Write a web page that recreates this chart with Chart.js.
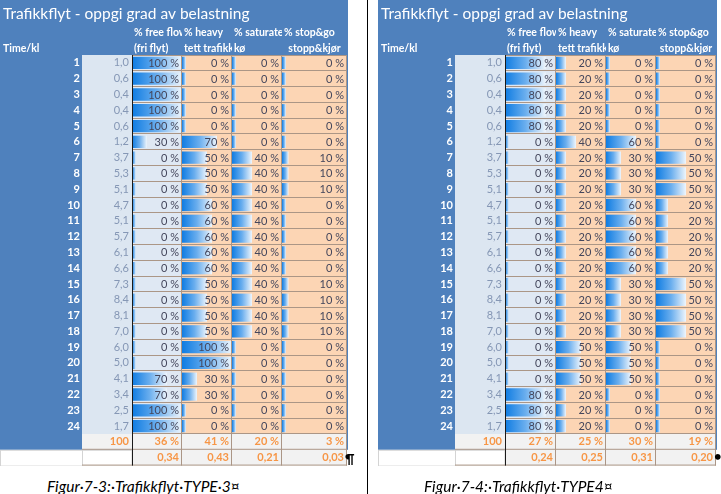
<!DOCTYPE html>
<html>
<head>
<meta charset="utf-8">
<script src="https://cdn.jsdelivr.net/npm/chart.js@4.4.1/dist/chart.umd.min.js"></script>
<style>
  body { margin: 0; width: 721px; height: 494px; background: #fff; position: relative; overflow: hidden; font-family: Lato, 'Open Sans', sans-serif; }
  canvas { position: absolute; top: 0; }
  #type3 { left: 0; }
  #type4 { left: 378px; }
  .divider { position: absolute; left: 367px; top: 0; width: 1px; height: 494px; background: #000; }
  .caption { position: absolute; top: 477px; font-style: italic; font-size: 15.5px; color: #000; white-space: nowrap; }
  .mark { position: absolute; font-size: 13px; font-weight: bold; color: #000; }
</style>
</head>
<body>
<canvas id="type3" width="348" height="466"></canvas>
<canvas id="type4" width="339" height="466"></canvas>
<div class="divider"></div>
<div class="caption" style="left:47px">Figur·7-3:·Trafikkflyt·TYPE·3¤</div>
<div class="caption" style="left:424px">Figur·7-4:·Trafikkflyt·TYPE4¤</div>
<div class="mark" style="left:345px;top:451px">¶</div>
<div class="mark" style="left:714px;top:448px">•</div>
<script>
// Table data
const title = 'Trafikkflyt - oppgi grad av belastning';
const hours = ['1', '2', '3', '4', '5', '6', '7', '8', '9', '10', '11', '12',
               '13', '14', '15', '16', '17', '18', '19', '20', '21', '22', '23', '24'];
const flow = [1.0, 0.6, 0.4, 0.4, 0.6, 1.2, 3.7, 5.3, 5.1, 4.7, 5.1, 5.7,
              6.1, 6.6, 7.3, 8.4, 8.1, 7.0, 6.0, 5.0, 4.1, 3.4, 2.5, 1.7];
const flowTotal = '100';
const headTop = ['% free flow', '% heavy', '% saturated', '% stop&go'];
const headSub = ['(fri flyt)', 'tett trafikk', 'kø', 'stopp&kjør'];

// TYPE 3
const t3Free      = [100, 100, 100, 100, 100, 30, 0, 0, 0, 0, 0, 0, 0, 0, 0, 0, 0, 0, 0, 0, 70, 70, 100, 100];
const t3Heavy     = [0, 0, 0, 0, 0, 70, 50, 50, 50, 60, 60, 60, 60, 60, 50, 50, 50, 50, 100, 100, 30, 30, 0, 0];
const t3Saturated = [0, 0, 0, 0, 0, 0, 40, 40, 40, 40, 40, 40, 40, 40, 40, 40, 40, 40, 0, 0, 0, 0, 0, 0];
const t3StopGo    = [0, 0, 0, 0, 0, 0, 10, 10, 10, 0, 0, 0, 0, 0, 10, 10, 10, 10, 0, 0, 0, 0, 0, 0];
const t3Share  = [36, 41, 20, 3];
const t3Factor = ['0,34', '0,43', '0,21', '0,03'];

// TYPE 4
const t4Free      = [80, 80, 80, 80, 80, 0, 0, 0, 0, 0, 0, 0, 0, 0, 0, 0, 0, 0, 0, 0, 0, 80, 80, 80];
const t4Heavy     = [20, 20, 20, 20, 20, 40, 20, 20, 20, 20, 20, 20, 20, 20, 20, 20, 20, 20, 50, 50, 50, 20, 20, 20];
const t4Saturated = [0, 0, 0, 0, 0, 60, 30, 30, 30, 60, 60, 60, 60, 60, 30, 30, 30, 30, 50, 50, 50, 0, 0, 0];
const t4StopGo    = [0, 0, 0, 0, 0, 0, 50, 50, 50, 20, 20, 20, 20, 20, 50, 50, 50, 50, 0, 0, 0, 0, 0, 0];
const t4Share  = [27, 25, 30, 19];
const t4Factor = ['0,24', '0,25', '0,31', '0,20'];

const FONT = 'Lato, "Open Sans", sans-serif';
const PANEL = '#4f81bd';
const colFill = ['#dfe8f3', '#fcd5b4', '#fcd5b4', '#fcd5b4'];
const ORANGE = '#f79646';
const BAR = '#0f7ce2';
const colIds = ['x0', 'x1', 'x2', 'x3'];

const fmtFlow = v => v.toFixed(1).replace('.', ',');

// Excel style gradient data bar
function barFill(c) {
  if (c.type !== 'data') return BAR;
  const scale = c.chart.scales[c.dataset.xAxisID];
  if (!scale) return BAR;
  const x0 = scale.getPixelForValue(0);
  const x1 = Math.max(scale.getPixelForValue(c.raw), x0 + 4);
  if (!isFinite(x0) || !isFinite(x1)) return BAR;
  const g = c.chart.ctx.createLinearGradient(x0, 0, x1, 0);
  g.addColorStop(0, BAR);
  g.addColorStop(0.5, '#6aaeee');
  g.addColorStop(1, '#eef5fc');
  return g;
}

function buildPanel(id, series, share, factor, hourWidth, colWeights) {
  const tablePlugin = {
    id: 'table',
    beforeDraw(chart) {
      const {ctx, chartArea: a, scales} = chart;
      const rowH = (a.bottom - a.top) / hours.length;
      const yf = scales.yFlow;
      ctx.save();
      ctx.fillStyle = PANEL;
      ctx.fillRect(0, 0, chart.width, a.bottom + rowH);
      // value column
      ctx.fillStyle = '#dce6f1';
      ctx.fillRect(yf.left, a.top, yf.right - yf.left, a.bottom - a.top);
      ctx.fillStyle = '#f2f2f2';
      ctx.fillRect(yf.left, a.bottom, yf.right - yf.left, rowH);
      // data columns
      colIds.forEach((cid, c) => {
        const xs = scales[cid];
        ctx.fillStyle = colFill[c];
        ctx.fillRect(xs.left, a.top, xs.right - xs.left, a.bottom - a.top);
        ctx.fillStyle = '#f2f2f2';
        ctx.fillRect(xs.left, a.bottom, xs.right - xs.left, rowH * 2);
      });
      // footer row 2 light borders
      ctx.strokeStyle = '#d4d4d4';
      ctx.lineWidth = 1;
      ctx.strokeRect(0.5, a.bottom + rowH + 0.5, yf.right - 0.5, rowH);
      ctx.beginPath();
      ctx.moveTo(yf.left + 0.5, a.bottom + rowH);
      ctx.lineTo(yf.left + 0.5, a.bottom + rowH * 2);
      ctx.stroke();
      // title and headers
      ctx.fillStyle = '#fff';
      ctx.textBaseline = 'middle';
      ctx.textAlign = 'left';
      ctx.font = '15.5px ' + FONT;
      ctx.fillText(title, 3, 14);
      ctx.font = 'bold 10.5px ' + FONT;
      ctx.fillText('Time/kl', 3, 49);
      colIds.forEach((cid, c) => {
        const xs = scales[cid];
        ctx.save();
        ctx.beginPath();
        ctx.rect(xs.left, 20, xs.right - xs.left, 38);
        ctx.clip();
        ctx.textAlign = 'left';
        ctx.fillText(headTop[c], xs.left + 2, 33);
        if (c === colIds.length - 1) {
          ctx.textAlign = 'center';
          ctx.fillText(headSub[c], (xs.left + xs.right) / 2, 49);
        } else {
          ctx.fillText(headSub[c], xs.left + 2, 49);
        }
        ctx.restore();
      });
      ctx.restore();
    },
    afterDatasetsDraw(chart) {
      const {ctx, chartArea: a, scales} = chart;
      const rowH = (a.bottom - a.top) / hours.length;
      const ys = scales.y;
      const yf = scales.yFlow;
      ctx.save();
      ctx.textBaseline = 'middle';
      ctx.textAlign = 'right';
      ctx.font = '11px ' + FONT;
      ctx.fillStyle = '#44465c';
      series.forEach((data, c) => {
        const xs = scales[colIds[c]];
        data.forEach((v, r) => ctx.fillText(v + ' %', xs.right - 3, ys.getPixelForValue(r) + 0.5));
      });
      // cell borders
      ctx.strokeStyle = '#ab9686';
      ctx.lineWidth = 1;
      ctx.beginPath();
      colIds.forEach(cid => {
        const xs = scales[cid];
        ctx.moveTo(Math.round(xs.right) - 0.5, a.top);
        ctx.lineTo(Math.round(xs.right) - 0.5, a.bottom + rowH * 2);
      });
      ctx.moveTo(yf.left, a.bottom + rowH * 2 - 0.5);
      ctx.lineTo(a.right, a.bottom + rowH * 2 - 0.5);
      ctx.moveTo(yf.left, a.bottom + rowH - 0.5);
      ctx.lineTo(a.right, a.bottom + rowH - 0.5);
      ctx.stroke();
      ctx.strokeStyle = '#1a1a1a';
      ctx.beginPath();
      ctx.moveTo(Math.round(a.left) + 0.5, a.top);
      ctx.lineTo(Math.round(a.left) + 0.5, a.bottom + rowH * 2);
      ctx.stroke();
      // footer rows
      ctx.fillStyle = ORANGE;
      ctx.font = 'bold 11px ' + FONT;
      const f1 = a.bottom + rowH / 2;
      const f2 = a.bottom + rowH * 1.5;
      ctx.fillText(flowTotal, yf.right - 3, f1);
      colIds.forEach((cid, c) => {
        const xs = scales[cid];
        ctx.fillText(share[c] + ' %', xs.right - 3, f1);
        ctx.fillText(factor[c], xs.right - 3, f2);
      });
      ctx.restore();
    }
  };

  const scales = {
    y: {
      type: 'category', position: 'left', weight: 2, offset: true,
      grid: { display: true, offset: true, color: '#ab9686', drawTicks: false },
      border: { display: false },
      ticks: { color: '#fff', autoSkip: false, padding: 2, font: { family: FONT, weight: 'bold', size: 11 } },
      afterFit: s => { s.width = hourWidth; }
    },
    yFlow: {
      type: 'category', position: 'left', weight: 1, offset: true,
      labels: flow.map(fmtFlow),
      grid: { display: false, drawTicks: false },
      border: { display: false },
      ticks: { color: '#8597b5', autoSkip: false, padding: 3, font: { family: FONT, size: 11 } },
      afterFit: s => { s.width = 50; }
    }
  };
  colIds.forEach((cid, c) => {
    scales[cid] = {
      type: 'linear', position: 'bottom', stack: 'cells', stackWeight: colWeights[c],
      min: 0, max: 100, stacked: false,
      grid: { display: false, drawTicks: false },
      border: { display: false },
      ticks: { display: false },
      afterFit: s => { s.height = 0; }
    };
  });

  return new Chart(document.getElementById(id), {
    type: 'bar',
    data: {
      labels: hours,
      datasets: series.map((data, c) => ({
        label: headTop[c],
        data: data,
        xAxisID: colIds[c],
        yAxisID: 'y',
        grouped: false,
        backgroundColor: barFill,
        borderWidth: 0,
        barPercentage: 0.78,
        categoryPercentage: 1,
        minBarLength: 4
      }))
    },
    options: {
      indexAxis: 'y',
      responsive: false,
      animation: false,
      events: [],
      layout: { padding: { top: 55, bottom: 32, left: 0, right: 1 } },
      plugins: { legend: { display: false }, tooltip: { enabled: false } },
      scales: scales
    },
    plugins: [tablePlugin]
  });
}

buildPanel('type3', [t3Free, t3Heavy, t3Saturated, t3StopGo], t3Share, t3Factor, 82, [50, 50, 50, 65]);
buildPanel('type4', [t4Free, t4Heavy, t4Saturated, t4StopGo], t4Share, t4Factor, 77, [51, 50, 50, 60]);
</script>
</body>
</html>
